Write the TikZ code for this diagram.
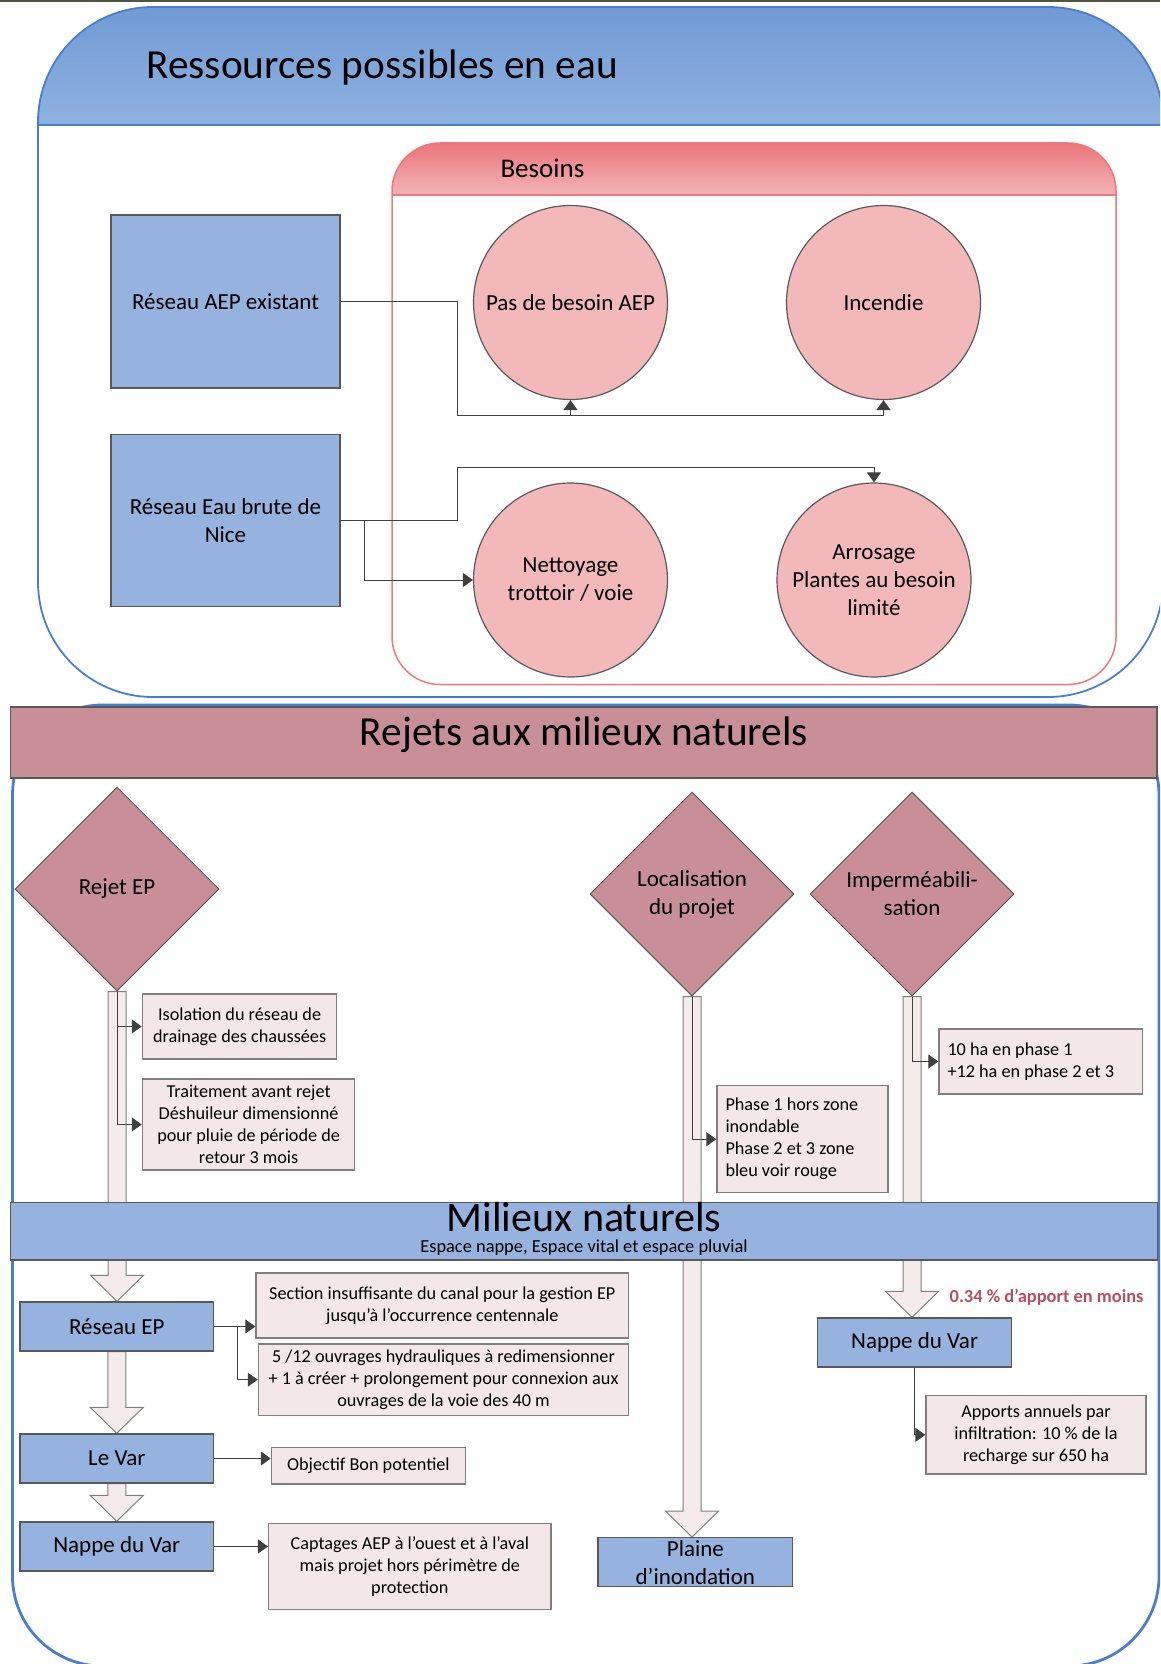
\documentclass[tikz,border=0pt]{standalone}
\usepackage{fontspec}
\setmainfont{Carlito}
\usetikzlibrary{arrows.meta,shapes.geometric,calc}
\pgfdeclarelayer{back}
\pgfdeclarelayer{bg}
\pgfsetlayers{back,bg,main}
\definecolor{hdrTop}{RGB}{112,155,213}
\definecolor{hdrBot}{RGB}{143,177,224}
\definecolor{cblue}{RGB}{74,126,202}
\definecolor{redTop}{RGB}{234,118,124}
\definecolor{redBot}{RGB}{243,180,182}
\definecolor{redLine}{RGB}{234,120,126}
\definecolor{circ}{RGB}{242,184,186}
\definecolor{mauve}{RGB}{201,143,153}
\definecolor{bbox}{RGB}{149,179,222}
\definecolor{pinkbox}{RGB}{243,231,233}
\definecolor{shaftcol}{RGB}{245,234,236}
\definecolor{edge}{RGB}{89,89,89}
\definecolor{noteedge}{RGB}{127,127,127}
\definecolor{conncol}{RGB}{64,64,64}
\definecolor{redtxt}{RGB}{180,78,98}
\definecolor{topline}{RGB}{78,84,66}
\newcommand\blockarr[2]{%
  \draw[blockstyle] let \p1=(#1), \p2=(#2) in
   (\x1-9pt,\y1) -- (\x1+9pt,\y1) -- (\x1+9pt,\y2+26pt) -- (\x1+26.5pt,\y2+26pt)
   -- (\x1,\y2) -- (\x1-26.5pt,\y2+26pt) -- (\x1-9pt,\y2+26pt) -- cycle;}
\tikzset{
  bigfont/.style={font=\fontsize{23}{28}\selectfont},
  smallfont/.style={font=\fontsize{18.2}{22}\selectfont},
  bluebox/.style={draw=edge, line width=1.3pt, fill=bbox, bigfont, align=center, inner sep=2pt},
  circnode/.style={circle, draw=edge, line width=1.2pt, fill=circ, minimum size=194pt, inner sep=0pt, bigfont, align=center},
  dia/.style={diamond, draw=edge, line width=1pt, fill=mauve, minimum width=204pt, minimum height=204pt, inner sep=0pt, bigfont, align=center},
  notebox/.style={draw=noteedge, line width=1.3pt, fill=pinkbox, smallfont, align=center, inner sep=2pt},
  conn/.style={draw=conncol, line width=1pt, -{Triangle[length=10pt,width=14pt]}},
  blockstyle/.style={draw=noteedge, fill=shaftcol, line width=1pt, line join=miter},
  band/.style={draw=edge, line width=1.3pt, inner sep=0pt},
}
\begin{document}
\begin{tikzpicture}[x=1pt,y=-1pt]
\useasboundingbox (0,0) rectangle (1160,1664);
\begin{pgfonlayer}{back}
  \clip (0,0) rectangle (1160,1664);
  \fill[topline] (0,0) rectangle (1160,2.5);
  % upper container
  \shade[top color=hdrTop, bottom color=hdrBot] (38,125) -- (38,122) .. controls (38,58.5) and (89.5,7) .. (153,7) -- (1048,7) .. controls (1111.5,7) and (1163,58.5) .. (1163,122) -- (1163,125) -- cycle;
  \draw[cblue, line width=1.8pt, rounded corners=115pt] (38,7) rectangle (1163,697);
  \draw[cblue, line width=1.8pt] (38,125) -- (1163,125);
  % besoins container
  \shade[top color=redTop, bottom color=redBot] (392,195) -- (392,191) .. controls (392,164.5) and (413.5,143) .. (440,143) -- (1068,143) .. controls (1094.5,143) and (1116,164.5) .. (1116,191) -- (1116,195) -- cycle;
  \draw[redLine, line width=1.5pt, rounded corners=48pt] (392,143) rectangle (1116,684.5);
  \draw[redLine, line width=1.5pt] (392,195) -- (1116,195);
  % lower container
  \draw[cblue, line width=2.8pt, rounded corners=90pt] (12.5,705) rectangle (1159,1666);
\end{pgfonlayer}

% titles
\node[anchor=base west, font=\fontsize{41.3}{49}\selectfont] (ttlres) at (143,79) {Ressources possibles en eau};
\node[anchor=base west, font=\fontsize{27}{32}\selectfont] (ttlbes) at (497,178) {Besoins};

% upper boxes
\node[bluebox, minimum width=229pt, minimum height=173pt] (aep) at (225.5,301.5) {Réseau AEP existant};
\node[bluebox, minimum width=229pt, minimum height=172pt] (brute) at (225.5,520.5) {Réseau Eau brute de\\Nice};
\node[circnode] (pas) at (570.5,302.5) {Pas de besoin AEP};
\node[circnode] (inc) at (883.5,302.5) {Incendie};
\node[circnode] (net) at (570.5,580) {Nettoyage\\trottoir / voie};
\node[circnode] (arr) at (874,580) {Arrosage\\Plantes au besoin\\limité};

\draw[conn] (aep.east) -| (457,415.5) -| (pas.south);
\draw[conn] (aep.east) -| (457,415.5) -| (inc.south);
\draw[conn] (brute.east) -| (457,467.5) -| (arr.north);
\draw[conn] (brute.east) -| (364,580) -- (net.west);

% Rejets band
\node[band, fill=mauve, minimum width=1146.5pt, minimum height=71pt] (rejets) at (583.75,742.5) {};
\node[anchor=base, font=\fontsize{41.3}{49}\selectfont] (rejtxt) at (584,745) {Rejets aux milieux naturels};

% diamonds
\node[dia] (rejet) at (117,889) {Rejet EP};
\node[dia] (loc) at (692,894) {Localisation\\du projet};
\node[dia] (imp) at (912,894) {Imperméabili-\\sation};

% note boxes upper part
\node[notebox, minimum width=194.4pt, minimum height=65pt] (iso) at (239.6,1026.5) {Isolation du réseau de\\drainage des chaussées};
\node[notebox, minimum width=212.4pt, minimum height=91pt] (trait) at (248.6,1124.5) {Traitement avant rejet\\Déshuileur dimensionné\\pour pluie de période de\\retour 3 mois};
\node[notebox, align=flush left, text width=154pt, inner xsep=8.5pt, minimum height=107pt] (phase) at (802.5,1139.2) {Phase 1 hors zone\\inondable\\Phase 2 et 3 zone\\bleu voir rouge};
\node[notebox, align=flush left, text width=186.5pt, inner xsep=8.5pt, minimum height=65pt] (ha) at (1040.75,1061.5) {10 ha en phase 1\\+12 ha en phase 2 et 3};

% Milieux band
\node[band, fill=bbox, minimum width=1147.6pt, minimum height=57.7pt] (milieux) at (584,1231.15) {};
\node[anchor=base, font=\fontsize{42}{50}\selectfont] (miltxt) at (584,1231) {Milieux naturels};
\node[anchor=base, font=\fontsize{18.4}{22}\selectfont] (milsub) at (584,1252) {Espace nappe, Espace vital et espace pluvial};

% lower boxes
\node[bluebox, minimum width=193.5pt, minimum height=49pt] (rep) at (116.75,1326.5) {Réseau EP};
\node[bluebox, minimum width=193.5pt, minimum height=49pt] (levar) at (116.75,1458.5) {Le Var};
\node[bluebox, minimum width=193.5pt, minimum height=49pt] (nappe) at (116.75,1546.5) {Nappe du Var};
\node[bluebox, minimum width=194.7pt, minimum height=49pt] (plaine) at (695.35,1562.2) {Plaine\\d’inondation};
\node[bluebox, minimum width=194pt, minimum height=49pt] (nappe2) at (914.6,1342.5) {Nappe du Var};

\node[notebox, minimum width=372.6pt, minimum height=65pt] (section) at (442.3,1305.5) {Section insuffisante du canal pour la gestion EP\\jusqu’à l’occurrence centennale};
\node[notebox, minimum width=370.2pt, minimum height=71.3pt] (ouv) at (443.5,1379.65) {5 /12 ouvrages hydrauliques à redimensionner\\+ 1 à créer + prolongement pour connexion aux\\ouvrages de la voie des 40 m};
\node[notebox, minimum width=193.9pt, minimum height=36.7pt] (obj) at (368.35,1465.65) {Objectif Bon potentiel};
\node[notebox, minimum width=282.4pt, minimum height=86pt] (capt) at (409.8,1566.3) {Captages AEP à l’ouest et à l’aval\\mais projet hors périmètre de\\protection};
\node[notebox, minimum width=220pt, minimum height=78.3pt] (apports) at (1036,1434.85) {Apports annuels par\\infiltration: 10 \% de la\\recharge sur 650 ha};

\node[font=\bfseries\fontsize{18.4}{22}\selectfont, text=redtxt] (pct) at (1046.6,1297.7) {0.34 \% d’apport en moins};

% block arrows
\begin{pgfonlayer}{bg}
  \blockarr{rejet.south}{rep.north}
  \blockarr{rep.south}{levar.north}
  \blockarr{levar.south}{nappe.north}
  \blockarr{loc.south}{plaine.north}
  \blockarr{imp.south}{nappe2.north}
\end{pgfonlayer}

% connectors lower
\draw[conn] (rejet.south) |- (iso.west);
\draw[conn] (rejet.south) |- (trait.west);
\draw[conn] (loc.south) |- (phase.west);
\draw[conn] (imp.south) |- (ha.west);
\draw[conn] (nappe2.south) |- (apports.west);
\draw[conn] (rep.east) -- (rep.east -| section.west);
\draw[conn] (rep.east) -| (237.6,1379.65) -- (ouv.west);
\draw[conn] (levar.east) -- (levar.east -| obj.west);
\draw[conn] (nappe.east) -- (nappe.east -| capt.west);
\end{tikzpicture}
\end{document}
